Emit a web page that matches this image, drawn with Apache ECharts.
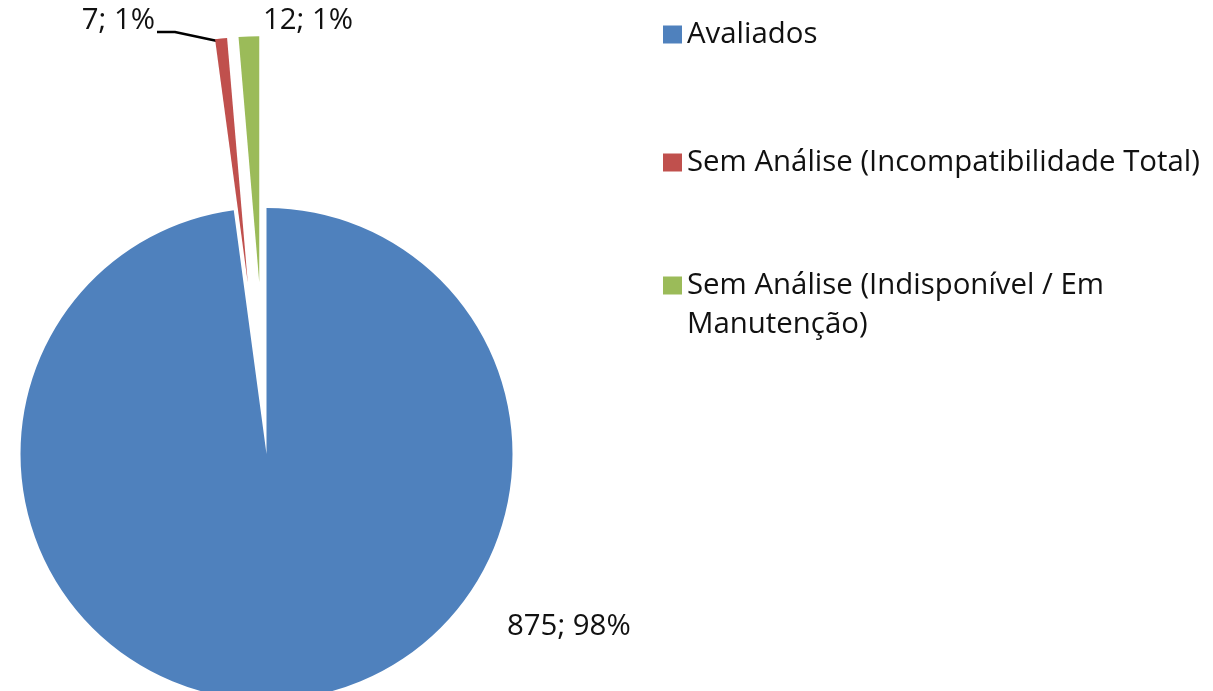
<!DOCTYPE html>
<html>
<head>
<meta charset="utf-8">
<script src="https://cdn.jsdelivr.net/npm/echarts@6/dist/echarts.min.js"></script>
<style>
  html, body { margin: 0; padding: 0; background: #ffffff; }
  #chart { width: 1213px; height: 691px; }
</style>
</head>
<body>
<div id="chart"></div>
<script>
// ---- data ----
const categories = [
  'Avaliados',
  'Sem Análise (Incompatibilidade Total)',
  'Sem Análise (Indisponível / Em Manutenção)'
];
const values = [875, 7, 12];
const exploded = [false, true, true];

// ---- styles / layout ----
const colors = ['#4F81BD', '#C0504D', '#9BBB59'];
const FONT = '"Open Sans", "Noto Sans", sans-serif';
const FONT_SIZE = 29.4;
const TEXT_COLOR = '#111111';
const CENTER = [266.5, 454];
const RADIUS = 246;
const EXPLODE = 172;

const labelSpots = [
  { x: 507, y: 627, align: 'left' },
  { x: 155, y: 21, align: 'right' },
  { x: 263, y: 21, align: 'left' }
];
const legendTops = [15, 143, 227];

// offset direction for exploded slices follows each slice's mid angle
const total = values.reduce((a, b) => a + b, 0);
function sliceCenter(i) {
  if (!exploded[i]) return CENTER;
  let before = 0;
  for (let k = 0; k < i; k++) before += values[k];
  const midFrac = (before + values[i] / 2) / total;
  const ang = midFrac * 2 * Math.PI; // clockwise from 12 o'clock
  return [CENTER[0] + EXPLODE * Math.sin(ang), CENTER[1] - EXPLODE * Math.cos(ang)];
}

const chart = echarts.init(document.getElementById('chart'), null, { renderer: 'canvas' });

const hidden = { color: 'rgba(0,0,0,0)' };
const leaderStyle = { color: '#000000', width: 2.5 };

const series = categories.map((_, s) => ({
  type: 'pie',
  center: sliceCenter(s),
  radius: RADIUS,
  startAngle: 90,
  clockwise: true,
  avoidLabelOverlap: false,
  percentPrecision: 0,
  silent: true,
  emphasis: { disabled: true },
  label: {
    show: true,
    position: 'outside',
    formatter: '{c}; {d}%',
    fontFamily: FONT,
    fontSize: FONT_SIZE,
    color: TEXT_COLOR
  },
  labelLine: { show: false, lineStyle: leaderStyle },
  labelLayout: function (p) {
    const spot = labelSpots[p.dataIndex];
    const out = { x: spot.x, y: spot.y, align: spot.align, verticalAlign: 'middle' };
    if (p.dataIndex === 1) {
      out.labelLinePoints = [[222, 42], [175, 32], [157, 32]];
    }
    return out;
  },
  data: categories.map((name, i) => ({
    name: name,
    value: values[i],
    itemStyle: i === s ? { color: colors[i] } : hidden,
    label: { show: i === s },
    labelLine: (i === s && i === 1)
      ? { show: true, lineStyle: leaderStyle }
      : { show: false }
  }))
}));

const legends = categories.map((name, i) => ({
  orient: 'vertical',
  left: 663,
  top: legendTops[i],
  padding: 0,
  itemWidth: 19,
  itemHeight: 18,
  icon: 'rect',
  selectedMode: false,
  data: [{ name: name, itemStyle: { color: colors[i] } }],
  formatter: (n) => n.indexOf('/ Em ') >= 0 ? '\n' + n.replace('/ Em ', '/ Em\n') : n,
  textStyle: {
    fontFamily: FONT,
    fontSize: FONT_SIZE,
    color: TEXT_COLOR,
    lineHeight: 39
  }
}));

chart.setOption({
  animation: false,
  backgroundColor: '#ffffff',
  legend: legends,
  series: series
});
</script>
</body>
</html>
